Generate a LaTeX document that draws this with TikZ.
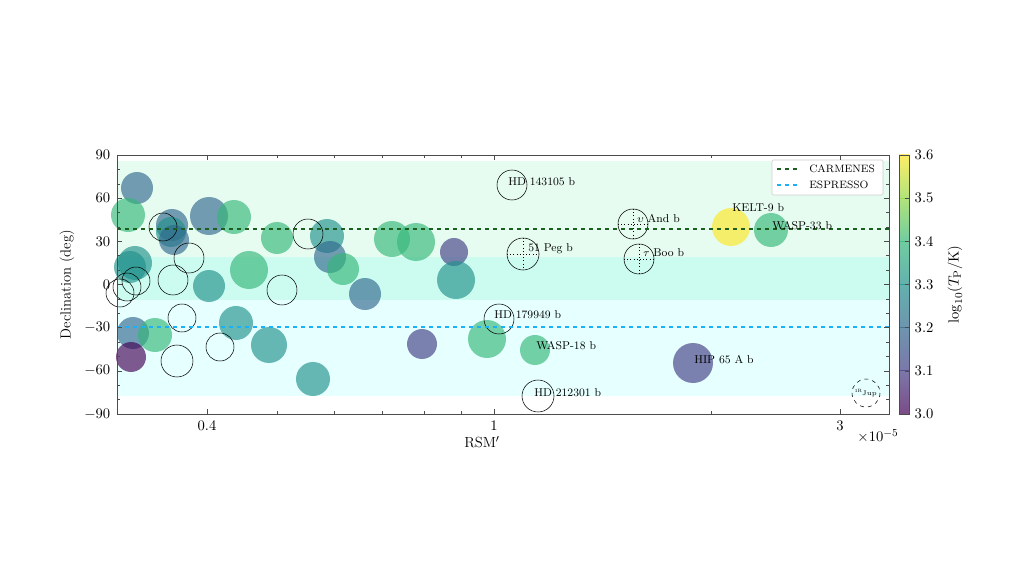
\documentclass[tikz,border=0pt]{standalone}
\usepackage{tikz}
\usepackage{xcolor}
\definecolor{vA}{HTML}{440154}
\definecolor{vB}{HTML}{433E85}
\definecolor{vC}{HTML}{31688E}
\definecolor{vD}{HTML}{21918C}
\definecolor{vE}{HTML}{35B779}
\definecolor{vF}{HTML}{90D743}
\definecolor{vG}{HTML}{FDE725}
\definecolor{bandA}{HTML}{E6FCF0}
\definecolor{bandB}{HTML}{CCFCF0}
\definecolor{bandC}{HTML}{E6FFFF}
\definecolor{carm}{HTML}{1B5E20}
\definecolor{espr}{HTML}{1CB0F6}
\newcommand{\planet}[4]{\fill[#4,opacity=0.65] (#1,#2) circle (#3);}
\newcommand{\ghost}[3]{\draw[black] (#1,#2) circle (#3);}
\newcommand{\crossed}[3]{\draw[black] (#1,#2) circle (#3);
  \draw[black,dotted] (#1-#3,#2) -- (#1+#3,#2) (#1,#2-#3) -- (#1,#2+#3);}

\begin{document}
\begin{tikzpicture}[x=0.75pt,y=0.75pt,yscale=-1,xscale=1]
    \useasboundingbox (0,0) rectangle (1024,577);
    \fill[white] (0,0) rectangle (1024,577);

    %bands
    \fill[bandA] (117,161) rectangle (889,257);
    \fill[bandB] (117,257) rectangle (889,300);
    \fill[bandC] (117,300) rectangle (889,396);

    %filled planets
    \planet{137}{188}{16}{vC}
    \planet{128}{215}{17}{vE}
    \planet{172}{225}{16}{vC}
    \planet{171}{232}{15}{vD}
    \planet{174}{240}{15}{vC}
    \planet{209}{216}{19}{vC}
    \planet{234}{217}{17}{vE}
    \planet{135}{263}{17}{vD}
    \planet{130}{267}{16}{vD}
    \planet{209}{286}{16}{vD}
    \planet{249}{270}{19}{vE}
    \planet{277}{238}{16}{vE}
    \planet{327}{236}{17}{vD}
    \planet{330}{257}{16}{vC}
    \planet{343}{269}{16}{vE}
    \planet{365}{294}{16}{vC}
    \planet{392}{239}{18}{vE}
    \planet{416}{242}{19}{vE}
    \planet{454}{252}{14}{vB}
    \planet{456}{280}{19}{vD}
    \planet{422}{344}{15}{vB}
    \planet{487}{339}{19}{vE}
    \planet{133}{333}{16}{vC}
    \planet{155}{335}{17}{vE}
    \planet{131}{357}{15}{vA}
    \planet{236}{323}{17}{vD}
    \planet{269}{345}{18}{vD}
    \planet{313}{379}{17}{vD}
    \planet{535}{350}{15}{vE}
    \planet{693}{363}{20}{vB}
    \planet{731}{227}{19}{vG}
    \planet{771}{230}{17}{vE}

    %open planets
    \ghost{163}{227}{14}
    \ghost{189}{258}{15}
    \ghost{173}{280}{15}
    \ghost{136}{281}{14}
    \ghost{127}{287}{14}
    \ghost{120}{293}{14}
    \ghost{182}{318}{14}
    \ghost{177}{361}{16}
    \ghost{220}{347}{14}
    \ghost{282}{290}{15}
    \ghost{308}{234}{15}
    \ghost{512}{185}{15}
    \ghost{499}{319}{15}
    \ghost{538}{396}{16}
    \crossed{633}{224}{15}
    \crossed{523}{254}{16}
    \crossed{639}{259}{15}
    \draw[black,dashed] (866,393) circle (14);
    \node (rjup) at (866,393) {\fontsize{3.5}{4}\selectfont 1R$_{\rm Jup}$};

    %instrument lines
    \draw[carm,dashed,thick] (117,229) -- (889,229);
    \draw[espr,dashed,thick] (117,327) -- (889,327);

    %planet names
    \begin{scope}[font=\fontsize{8.5}{10}\selectfont,inner sep=0.75pt]
    \node[anchor=west] (hda) at (507,182) {HD 143105 b};
    \node[anchor=west] (uand) at (636,219) {$\upsilon$ And b};
    \node[anchor=west] (peg) at (527,249) {51 Peg b};
    \node[anchor=west] (tboo) at (642,253) {$\tau$ Boo b};
    \node[anchor=west] (hdb) at (493,315) {HD 179949 b};
    \node[anchor=west] (wasp18) at (535,346) {WASP-18 b};
    \node[anchor=west] (hip) at (693,360) {HIP 65 A b};
    \node[anchor=west] (hdc) at (533,393) {HD 212301 b};
    \node[anchor=west] (kelt) at (731,208) {KELT-9 b};
    \node[anchor=west] (wasp33) at (771,226) {WASP-33 b};
    \end{scope}

    %legend
    \draw[black!20,fill=white,rounded corners=1pt] (772,160) rectangle (883,195);
    \draw[carm,dashed,thick] (777,169) -- (801,169);
    \draw[espr,dashed,thick] (777,185) -- (801,185);
    \node[anchor=west,font=\fontsize{8}{10}\selectfont,inner sep=0.75pt] (lcarm) at (808,169) {CARMENES};
    \node[anchor=west,font=\fontsize{8}{10}\selectfont,inner sep=0.75pt] (lespr) at (808,185) {ESPRESSO};

    %axes frame and ticks
    \draw[black!70] (117,155) rectangle (889,414);
    \foreach \y in {155,198.2,241.3,284.5,327.7,370.8,414} {
        \draw[black!70] (117,\y) -- (122,\y);
        \draw[black!70] (889,\y) -- (884,\y);
    }
    \foreach \y in {169.4,183.8,212.6,227.0,255.7,270.1,298.9,313.3,342.1,356.5,385.2,399.6} {
        \draw[black!70] (117,\y) -- (120,\y);
        \draw[black!70] (889,\y) -- (886,\y);
    }
    \foreach \x in {207,494,840} {
        \draw[black!70] (\x,414) -- (\x,409);
        \draw[black!70] (\x,155) -- (\x,160);
    }
    \foreach \x in {277,334,382,424,461,711} {
        \draw[black!70] (\x,414) -- (\x,411);
        \draw[black!70] (\x,155) -- (\x,158);
    }
    \begin{scope}[font=\fontsize{11}{13}\selectfont]
    \foreach \y/\t in {155/90,198.2/60,241.3/30,284.5/0,327.7/-30,370.8/-60,414/-90}
        \node[anchor=east] (yl\t) at (115,\y) {$\t$};
    \node (xa) at (207,426) {$0.4$};
    \node (xb) at (494,426) {$1$};
    \node (xc) at (840,426) {$3$};
    \node (xu) at (878,436) {$\times10^{-5}$};
    \node (xlab) at (482,442) {RSM$'$};
    \node[rotate=90] (ylab) at (67,284.5) {Declination (deg)};
    \end{scope}

    %colorbar
    \begin{scope}[opacity=0.7]
    \shade[bottom color=vA,top color=vB] (899,414) rectangle (909,370.8);
    \shade[bottom color=vB,top color=vC] (899,370.8) rectangle (909,327.7);
    \shade[bottom color=vC,top color=vD] (899,327.7) rectangle (909,284.5);
    \shade[bottom color=vD,top color=vE] (899,284.5) rectangle (909,241.3);
    \shade[bottom color=vE,top color=vF] (899,241.3) rectangle (909,198.2);
    \shade[bottom color=vF,top color=vG] (899,198.2) rectangle (909,155);
    \end{scope}
    \draw[black!70] (899,155) rectangle (909,414);
    \foreach \y/\t in {155/3.6,198.2/3.5,241.3/3.4,284.5/3.3,327.7/3.2,370.8/3.1,414/3.0} {
        \draw[black!70] (909,\y) -- (905,\y);
        \node[anchor=west,font=\fontsize{11}{13}\selectfont] (cb\t) at (910,\y) {$\t$};
    }
    \node[rotate=90,font=\fontsize{11}{13}\selectfont] (cblab) at (955,284.5) {$\log_{10}(T_{\rm P}/{\rm K})$};

\end{tikzpicture}
\end{document}
